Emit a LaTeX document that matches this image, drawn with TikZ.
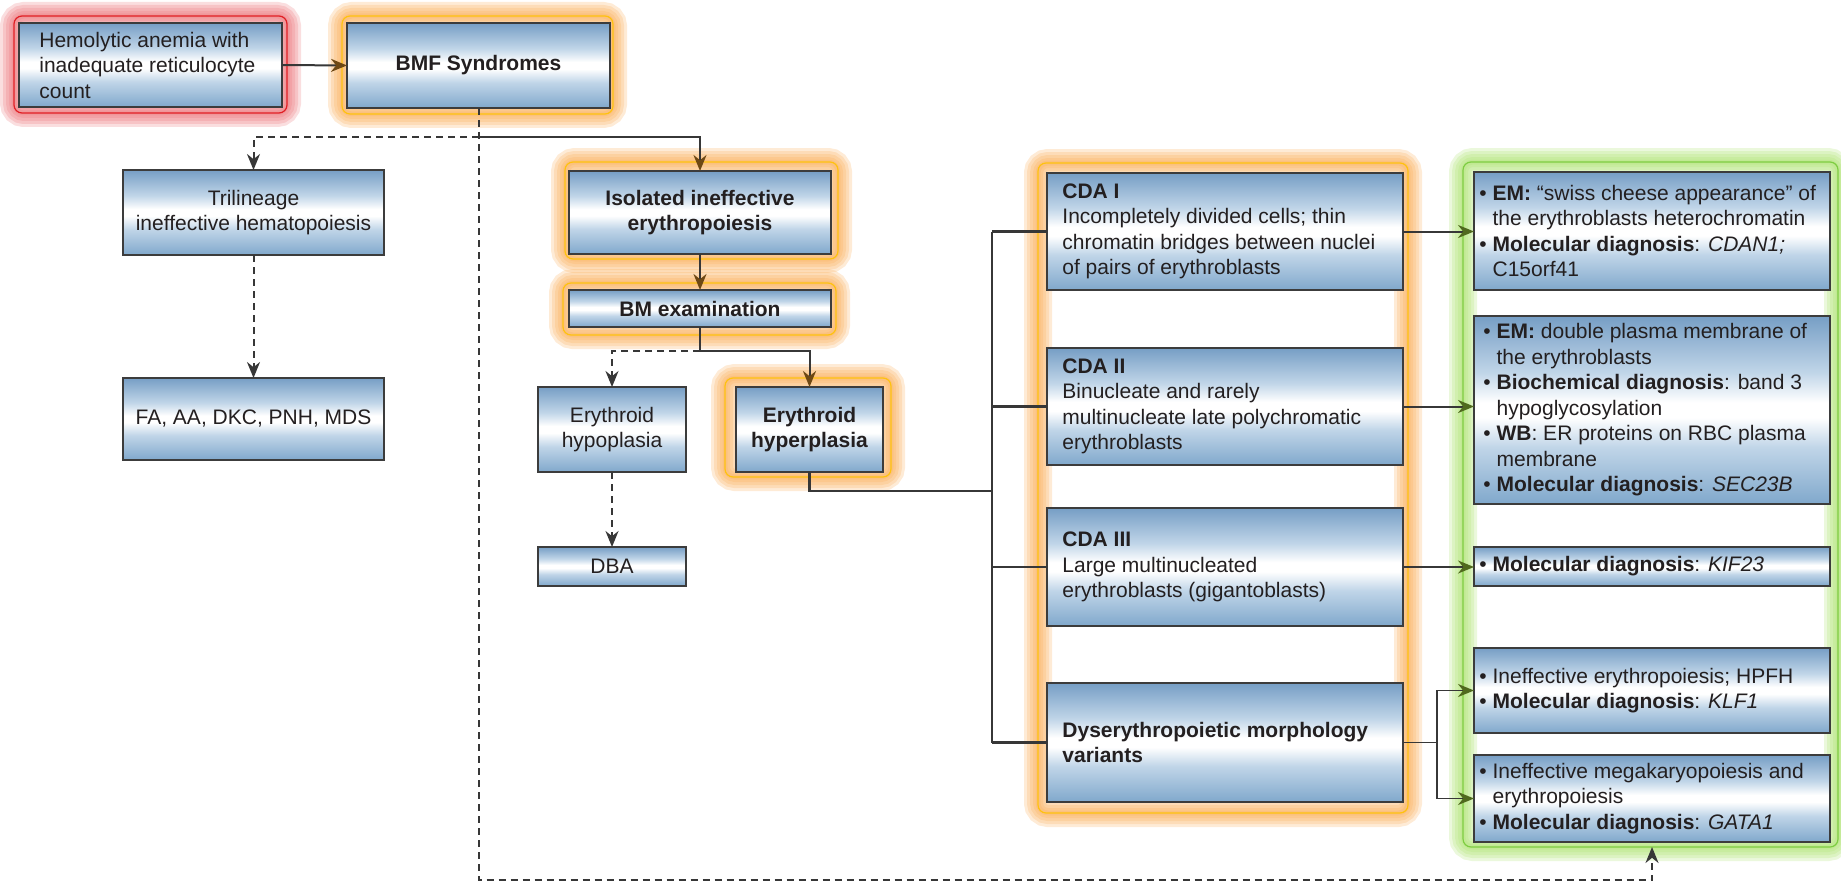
\documentclass[tikz,border=0pt]{standalone}
\usepackage{fontspec}
\setmainfont{Liberation Sans}
\usetikzlibrary{arrows.meta}
\definecolor{bxtop}{RGB}{118,158,197}
\definecolor{bxbot}{RGB}{128,168,204}
\definecolor{bxmid}{RGB}{192,213,232}
\definecolor{bxline}{RGB}{60,60,60}
\definecolor{txt}{RGB}{35,31,32}
\definecolor{lnc}{RGB}{55,55,55}
\definecolor{tipbrown}{RGB}{110,72,20}
\definecolor{tipgreen}{RGB}{80,105,30}
\definecolor{glowor}{RGB}{250,172,85}
\definecolor{lineor}{RGB}{255,194,14}
\definecolor{glowrd}{RGB}{235,115,120}
\definecolor{linerd}{RGB}{225,30,36}
\definecolor{glowgr}{RGB}{172,226,110}
\definecolor{linegr}{RGB}{125,205,65}
\pgfdeclareverticalshading{bxshade}{100bp}{color(0bp)=(bxbot); color(25bp)=(bxbot); color(40bp)=(bxmid); color(48bp)=(white); color(52bp)=(white); color(60bp)=(bxmid); color(75bp)=(bxtop); color(100bp)=(bxtop)}
\newcommand\mkbox[7]{%
  \pgfmathsetmacro\bxw{(#5-#3)*0.5}%
  \pgfmathsetmacro\bxh{(#6-#4)*0.5}%
  \node[box, minimum width=\bxw pt, minimum height=\bxh pt, #1] (#2) at ({(#3+#5)/2},{(#4+#6)/2}) {#7};}
\newcommand\glowbox[6]{%
  \foreach \gw in {28,22,16,10,5}{\draw[#1, line width=\gw*0.5pt, opacity=0.24, rounded corners=5pt] (#3,#4) rectangle (#5,#6);}
  \draw[#2, line width=0.6pt, rounded corners=4pt] (#3,#4) rectangle (#5,#6);}
\newcommand\bul{\textbullet\ }
\newcommand\hng{\phantom{\textbullet\ }}
\begin{document}
\begin{tikzpicture}[x=0.5pt,y=-0.5pt, font=\fontsize{10.5}{12.75}\selectfont, text=txt,
  box/.style={draw=bxline, line width=1.15pt, shade, shading=bxshade, inner sep=0pt, outer sep=0pt, align=center},
  lbl/.style={inner sep=0pt, align=left, anchor=west},
  conn/.style={draw=lnc, line width=1pt},
  dsh/.style={conn, dash pattern=on 3.5pt off 2.5pt},
  tipB/.style={-{Stealth[length=8pt,width=6.5pt,inset=2.6pt,color=tipbrown]}},
  tipG/.style={-{Stealth[length=8pt,width=6.5pt,inset=2.6pt,color=tipgreen]}},
  tipK/.style={-{Stealth[length=8pt,width=6.5pt,inset=2.6pt,color=lnc]}},
]
\useasboundingbox (0,0) rectangle (1841,883);
% glows
\glowbox{glowrd}{linerd}{14}{16}{287}{113}
\glowbox{glowor}{lineor}{342}{16}{613}{114}
\glowbox{glowor}{lineor}{565}{162}{838}{259}
\glowbox{glowor}{lineor}{563}{283}{836}{335}
\glowbox{glowor}{lineor}{725}{378}{891}{477}
\glowbox{glowor}{lineor}{1038}{163}{1408}{813}
\glowbox{glowgr}{linegr}{1463}{162}{1838}{847}
% boxes
\mkbox{}{hemo}{19}{23}{282}{107}{}
\mkbox{}{bmf}{347}{23}{610}{108}{\textbf{BMF Syndromes}}
\mkbox{}{tri}{123}{170}{384}{255}{Trilineage\\ineffective hematopoiesis}
\mkbox{}{fa}{123}{378}{384}{460}{FA, AA, DKC, PNH, MDS}
\mkbox{}{iso}{569}{171}{831}{254}{\textbf{Isolated ineffective}\\\textbf{erythropoiesis}}
\mkbox{}{bm}{569}{290}{831}{327}{\textbf{BM examination}}
\mkbox{}{hypo}{538}{387}{686}{472}{Erythroid\\hypoplasia}
\mkbox{}{hyper}{736}{387}{883}{472}{\textbf{Erythroid}\\\textbf{hyperplasia}}
\mkbox{}{dba}{538}{547}{686}{586}{DBA}
\mkbox{}{cda1}{1047}{173}{1403}{290}{}
\mkbox{}{cda2}{1047}{348}{1403}{465}{}
\mkbox{}{cda3}{1047}{508}{1403}{626}{}
\mkbox{}{dys}{1047}{683}{1403}{802}{}
\mkbox{}{g1}{1474}{172}{1830}{290}{}
\mkbox{}{g2}{1474}{316}{1830}{504}{}
\mkbox{}{g3}{1474}{547}{1830}{586}{}
\mkbox{}{g4}{1474}{648}{1830}{733}{}
\mkbox{}{g5}{1474}{755}{1830}{842}{}
% left-aligned texts
\node[lbl] (hemot) at ([xshift=10pt]hemo.west) {Hemolytic anemia with\\inadequate reticulocyte\\count};
\node[lbl] (cda1t) at ([xshift=7.5pt]cda1.west) {\textbf{CDA I}\\Incompletely divided cells; thin\\chromatin bridges between nuclei\\of pairs of erythroblasts};
\node[lbl] (cda2t) at ([xshift=7.5pt]cda2.west) {\textbf{CDA II}\\Binucleate and rarely\\multinucleate late polychromatic\\erythroblasts};
\node[lbl] (cda3t) at ([xshift=7.5pt]cda3.west) {\textbf{CDA III}\\Large multinucleated\\erythroblasts (gigantoblasts)};
\node[lbl] (dyst) at ([xshift=7.5pt]dys.west) {\textbf{Dyserythropoietic morphology}\\\textbf{variants}};
\node[lbl] (g1t) at ([xshift=2.5pt]g1.west) {\bul\textbf{EM:} “swiss cheese appearance” of\\\hng the erythroblasts heterochromatin\\\bul\textbf{Molecular diagnosis}: \textit{CDAN1;}\\\hng C15orf41};
\node[lbl] (g2t) at ([xshift=4.5pt]g2.west) {\bul\textbf{EM:} double plasma membrane of\\\hng the erythroblasts\\\bul\textbf{Biochemical diagnosis}: band 3\\\hng hypoglycosylation\\\bul\textbf{WB}: ER proteins on RBC plasma\\\hng membrane\\\bul\textbf{Molecular diagnosis}: \textit{SEC23B}};
\node[lbl] (g3t) at ([xshift=2.5pt]g3.west) {\bul\textbf{Molecular diagnosis}: \textit{KIF23}};
\node[lbl] (g4t) at ([xshift=2.5pt]g4.west) {\bul Ineffective erythropoiesis; HPFH\\\bul\textbf{Molecular diagnosis}: \textit{KLF1}};
\node[lbl] (g5t) at ([xshift=2.5pt]g5.west) {\bul Ineffective megakaryopoiesis and\\\hng erythropoiesis\\\bul\textbf{Molecular diagnosis}: \textit{GATA1}};
% connectors
\coordinate (j1) at (478.5,137);
\coordinate (j2) at (700,351);
\coordinate (botc) at (1652,880);
\coordinate (gfb) at (1652,847);
\coordinate (busx) at (992,0);
\coordinate (hb) at (992,491);
\coordinate (dj) at (1437,742.5);
\draw[conn, tipB] (hemo.east) -- (bmf.west);
\draw[dsh, tipK] (bmf.south) |- (botc) -- (gfb);
\draw[dsh, tipK] (j1) -| (tri.north);
\draw[conn, tipB] (j1) -| (iso.north);
\draw[dsh, tipK] (tri.south) -- (fa.north);
\draw[conn, tipB] (iso.south) -- (bm.north);
\draw[conn] (bm.south) -- (j2);
\draw[dsh, tipK] (j2) -| (hypo.north);
\draw[conn, tipB] (j2) -| (hyper.north);
\draw[dsh, tipK] (hypo.south) -- (dba.north);
\draw[conn, line width=1.4pt] (hyper.south) |- (hb);
\draw[conn, line width=1.25pt] (cda1.west -| busx) -- (dys.west -| busx);
\draw[conn, line width=1.15pt] (cda1.west -| busx) -- (cda1.west);
\draw[conn, line width=1.15pt] (cda2.west -| busx) -- (cda2.west);
\draw[conn, line width=1.15pt] (cda3.west -| busx) -- (cda3.west);
\draw[conn, line width=1.15pt] (dys.west -| busx) -- (dys.west);
\draw[conn, tipG] (cda1.east) -- (cda1.east -| g1.west);
\draw[conn, tipG] (cda2.east) -- (cda2.east -| g2.west);
\draw[conn, tipG] (cda3.east) -- (cda3.east -| g3.west);
\draw[conn, line width=0.85pt] (dys.east) -- (dj);
\draw[conn, line width=0.85pt, tipG] (dj) |- (g4.west);
\draw[conn, line width=0.85pt, tipG] (dj) |- (g5.west);
\end{tikzpicture}
\end{document}
